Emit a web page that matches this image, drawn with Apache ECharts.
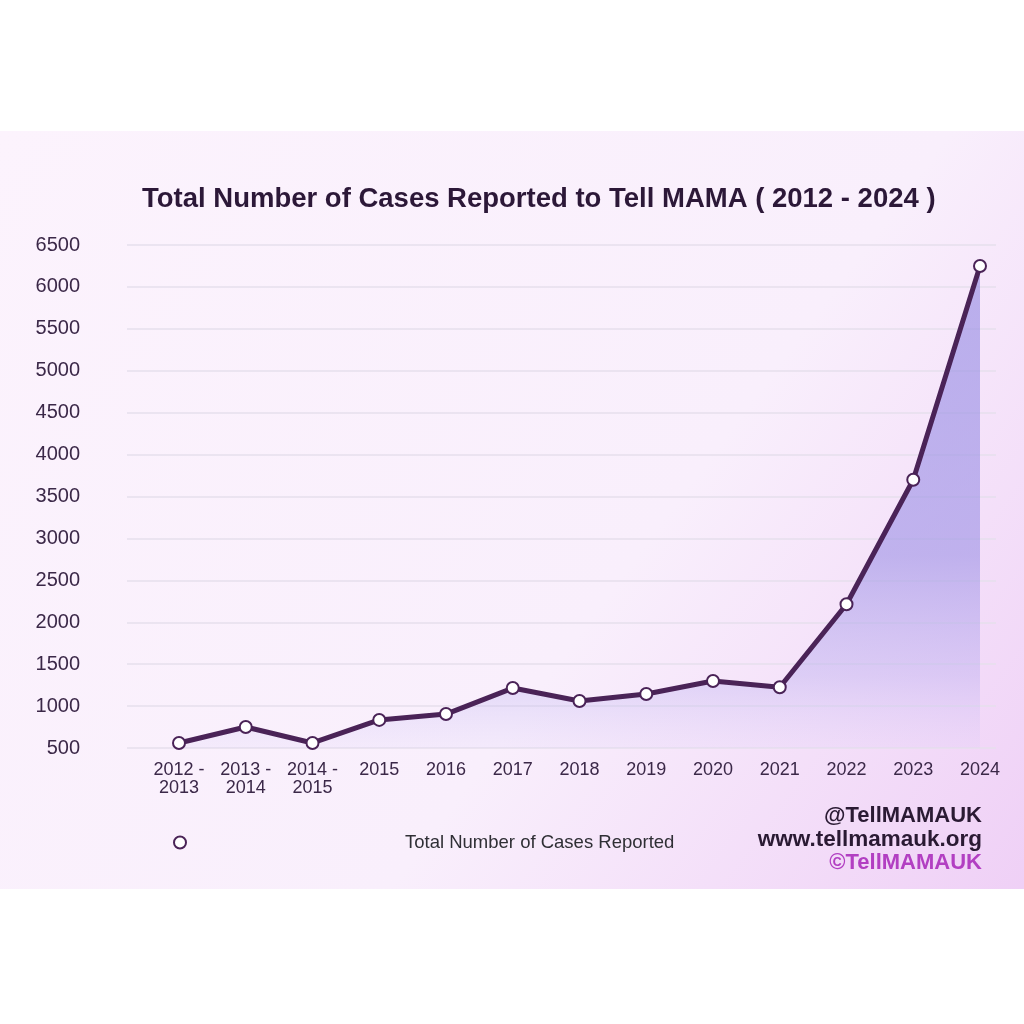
<!DOCTYPE html>
<html>
<head>
<meta charset="utf-8">
<script src="https://cdn.jsdelivr.net/npm/echarts@6/dist/echarts.min.js"></script>
<style>
  html, body { margin: 0; padding: 0; background: #ffffff; }
  #main { width: 1024px; height: 1024px; }
</style>
</head>
<body>
<div id="main"></div>
<script>
// categories and values
var years = ['2012 -\n2013', '2013 -\n2014', '2014 -\n2015', '2015', '2016', '2017', '2018', '2019', '2020', '2021', '2022', '2023', '2024'];
var cases = [560, 750, 560, 835, 905, 1215, 1060, 1145, 1300, 1225, 2215, 3700, 6250];
var yMin = 500;
var yMax = 6500;
var yStep = 500;

var textColor = '#3b2848';
var lineColor = '#4a2357';
var font = '"Liberation Sans", Arial, sans-serif';

var chart = echarts.init(document.getElementById('main'));

var option = {
  animation: false,
  textStyle: { fontFamily: font },
  title: {
    text: 'Total Number of Cases Reported to Tell MAMA ( 2012 - 2024 )',
    left: 137,
    top: 180,
    textStyle: { fontSize: 27.5, fontWeight: 'bold', color: '#2c1838', fontFamily: font }
  },
  graphic: [
    {
      type: 'rect',
      z: -10,
      silent: true,
      shape: { x: 0, y: 131, width: 1024, height: 758 },
      style: {
        fill: new echarts.graphic.LinearGradient(0, 0, 1, 1, [
          { offset: 0, color: '#fcf3fd' },
          { offset: 0.6, color: '#f9effc' },
          { offset: 1, color: '#efd0f6' }
        ])
      }
    },
    {
      type: 'text',
      right: 42,
      top: 805,
      style: { text: '@TellMAMAUK', font: 'bold 22px ' + font, fill: '#2a1a33', textAlign: 'right' }
    },
    {
      type: 'text',
      right: 42,
      top: 828,
      style: { text: 'www.tellmamauk.org', font: 'bold 22.5px ' + font, fill: '#2a1a33', textAlign: 'right' }
    },
    {
      type: 'text',
      right: 42,
      top: 852,
      style: { text: '©TellMAMAUK', font: 'bold 22px ' + font, fill: '#b23fc2', textAlign: 'right' }
    }
  ],
  legend: {
    left: 168,
    top: 828,
    itemWidth: 14,
    itemHeight: 12,
    icon: 'circle',
    data: ['Total Number of Cases Reported'],
    textStyle: { fontSize: 18.5, color: '#2f2f35', padding: [0, 0, 0, 213] }
  },
  // grid 0 carries the wide gridlines and y labels, grid 1 the series
  grid: [
    { left: 127, right: 28, top: 245, bottom: 276 },
    { left: 179, right: 44, top: 245, bottom: 276 }
  ],
  xAxis: [
    { gridIndex: 0, type: 'category', data: years, show: false },
    {
      gridIndex: 1,
      type: 'category',
      data: years,
      boundaryGap: false,
      axisLine: { show: false },
      axisTick: { show: false },
      axisLabel: { color: textColor, fontSize: 18, lineHeight: 18, margin: 13, interval: 0 }
    }
  ],
  yAxis: [
    {
      gridIndex: 0,
      type: 'value',
      min: yMin,
      max: yMax,
      interval: yStep,
      axisLine: { show: false },
      axisTick: { show: false },
      axisLabel: {
        color: textColor,
        fontSize: 20,
        margin: 47,
        formatter: function (v) { return String(v); }
      },
      splitLine: { lineStyle: { color: '#e6dfec', width: 1.5 } }
    },
    {
      gridIndex: 1,
      type: 'value',
      min: yMin,
      max: yMax,
      interval: yStep,
      show: false,
      splitLine: { show: false }
    }
  ],
  series: [
    {
      name: 'Total Number of Cases Reported',
      type: 'line',
      xAxisIndex: 1,
      yAxisIndex: 1,
      data: cases,
      symbol: 'circle',
      symbolSize: 12,
      itemStyle: { color: '#ffffff', borderColor: lineColor, borderWidth: 2 },
      lineStyle: { color: lineColor, width: 5 },
      areaStyle: {
        color: new echarts.graphic.LinearGradient(0, 0, 0, 1, [
          { offset: 0, color: 'rgba(150,140,228,0.9)' },
          { offset: 0.6, color: 'rgba(150,140,228,0.8)' },
          { offset: 0.85, color: 'rgba(175,165,238,0.5)' },
          { offset: 1, color: 'rgba(210,200,248,0.2)' }
        ])
      }
    }
  ]
};

chart.setOption(option);
</script>
</body>
</html>
